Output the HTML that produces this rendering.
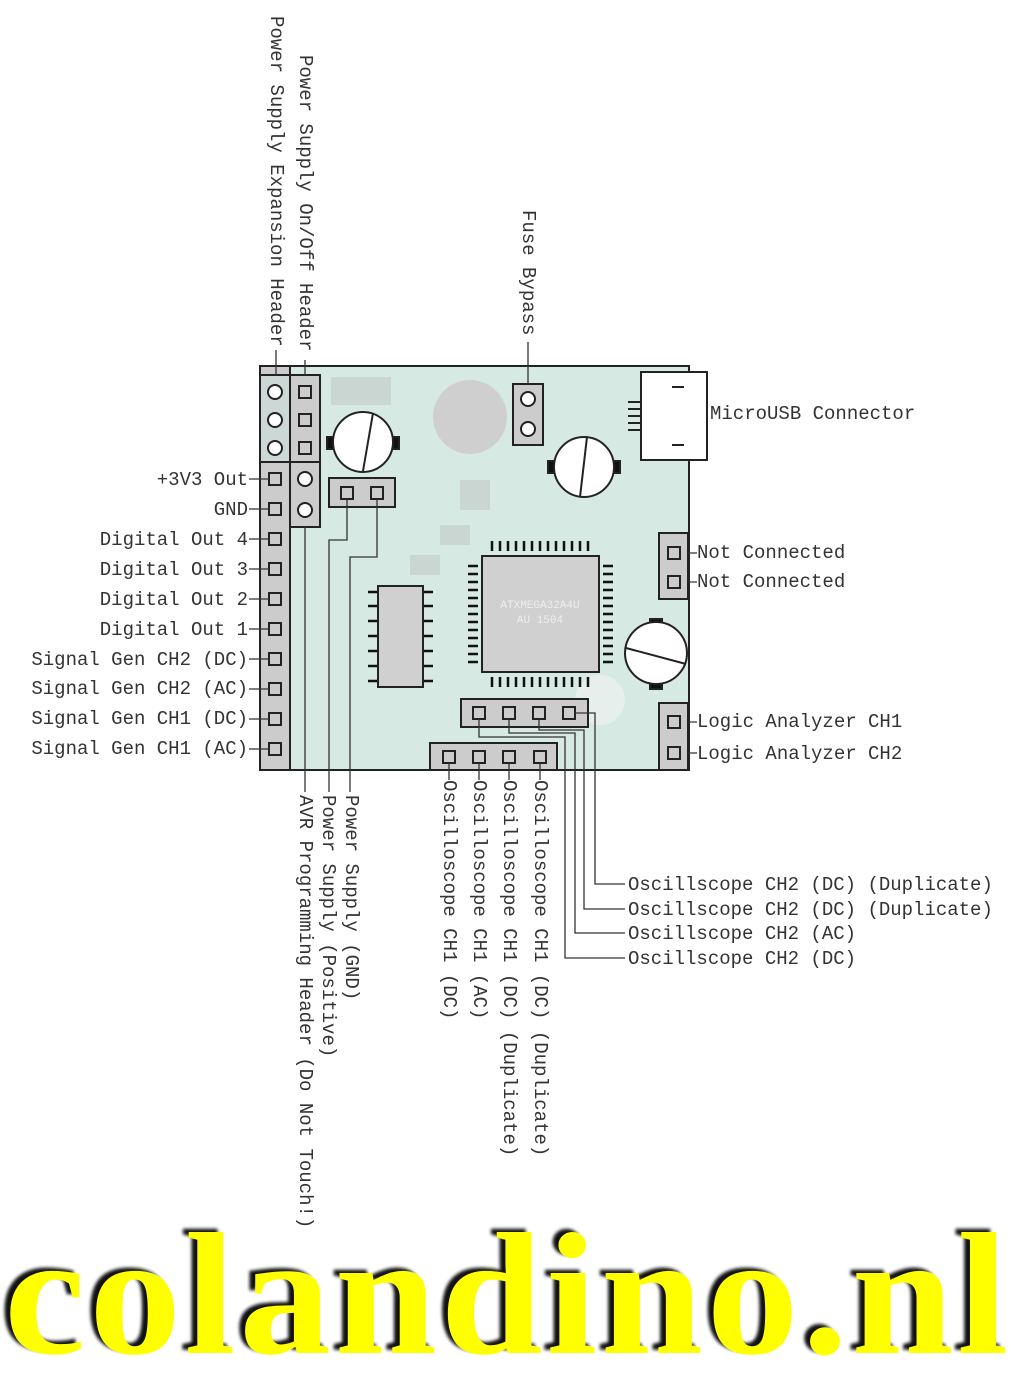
<!DOCTYPE html>
<html><head><meta charset="utf-8"><style>
html,body{margin:0;padding:0;background:#fff;width:1024px;height:1376px;overflow:hidden;position:relative}
svg{position:absolute;left:0;top:0}
.logo{position:absolute;left:4px;top:1207px;font-family:"Liberation Serif",serif;font-weight:bold;font-size:160px;color:#ffff00;letter-spacing:3px;transform-origin:0 0;transform:scaleX(1.15) scaleY(1.09);line-height:1;text-shadow:-5px -3px 3px #111;white-space:nowrap}
</style></head><body>
<svg width="1024" height="1376" viewBox="0 0 1024 1376" font-family="Liberation Mono, monospace" font-size="19" fill="#333">
<rect x="260" y="366" width="429" height="404" fill="#d6e9e2" stroke="#222" stroke-width="2"/>
<g fill="#c9d6d2" stroke="none">
<rect x="331" y="377" width="60" height="28"/>
<circle cx="470" cy="417" r="37" fill="#cfcfcf"/>
<rect x="460" y="480" width="30" height="30"/>
<rect x="440" y="525" width="30" height="20"/>
<rect x="410" y="555" width="30" height="20"/>
<circle cx="600" cy="700" r="25" fill="#e6efec"/>
</g>
<rect x="260" y="366" width="30" height="404" fill="#cccccc" stroke="#222" stroke-width="2"/>
<line x1="260" y1="462" x2="290" y2="462" stroke="#222" stroke-width="2"/>
<rect x="260" y="375" width="30" height="87" fill="#ccd8d5" stroke="#222" stroke-width="2"/>
<rect x="290" y="375" width="30" height="87" fill="#cccccc" stroke="#222" stroke-width="2"/>
<rect x="290" y="462" width="30" height="65" fill="#cccccc" stroke="#222" stroke-width="2"/>
<g fill="#fff" stroke="#222" stroke-width="2">
<circle cx="275" cy="392" r="7"/><circle cx="275" cy="420" r="7"/><circle cx="275" cy="448" r="7"/>
<circle cx="305" cy="479" r="7"/><circle cx="305" cy="510" r="7"/>
</g>
<g fill="none" stroke="#222" stroke-width="2">
<rect x="299" y="386" width="12" height="12"/><rect x="299" y="414" width="12" height="12"/><rect x="299" y="442" width="12" height="12"/>
<rect x="269" y="473" width="12" height="12"/><rect x="269" y="503" width="12" height="12"/><rect x="269" y="533" width="12" height="12"/>
<rect x="269" y="563" width="12" height="12"/><rect x="269" y="593" width="12" height="12"/><rect x="269" y="623" width="12" height="12"/>
<rect x="269" y="653" width="12" height="12"/><rect x="269" y="683" width="12" height="12"/><rect x="269" y="713" width="12" height="12"/>
<rect x="269" y="743" width="12" height="12"/>
</g>
<rect x="329" y="478" width="66" height="29" fill="#cccccc" stroke="#222" stroke-width="2"/>
<rect x="341" y="487" width="12" height="12" fill="none" stroke="#222" stroke-width="2"/>
<rect x="371" y="487" width="12" height="12" fill="none" stroke="#222" stroke-width="2"/>
<rect x="513" y="384" width="30" height="61" fill="#cccccc" stroke="#222" stroke-width="2"/>
<circle cx="528" cy="399" r="7" fill="#fff" stroke="#222" stroke-width="2"/>
<circle cx="528" cy="429" r="7" fill="#fff" stroke="#222" stroke-width="2"/>
<rect x="641" y="372" width="66" height="88" fill="#fff" stroke="#222" stroke-width="2"/>
<g stroke="#222" stroke-width="2"><line x1="672" y1="387" x2="684" y2="387"/><line x1="672" y1="445" x2="684" y2="445"/>
<line x1="628" y1="402" x2="641" y2="402"/><line x1="628" y1="409" x2="641" y2="409"/><line x1="628" y1="416" x2="641" y2="416"/><line x1="628" y1="423" x2="641" y2="423"/><line x1="628" y1="430" x2="641" y2="430"/></g>
<g stroke="#222" stroke-width="2">
<rect x="327" y="437" width="8" height="12" fill="#111"/><rect x="391" y="437" width="8" height="12" fill="#111"/>
<circle cx="363" cy="442" r="30" fill="#fff"/><line x1="373" y1="413" x2="363" y2="471"/>
<rect x="548" y="461" width="8" height="12" fill="#111"/><rect x="612" y="461" width="8" height="12" fill="#111"/>
<circle cx="584" cy="467" r="30" fill="#fff"/><line x1="587" y1="437" x2="580" y2="497"/>
<rect x="650" y="619" width="12" height="8" fill="#111"/><rect x="650" y="681" width="12" height="8" fill="#111"/>
<circle cx="656" cy="653" r="31" fill="#fff"/><line x1="626" y1="648" x2="686" y2="664"/>
</g>
<g stroke="#111" stroke-width="2.5">
<path d="M492 551v-10M500 551v-10M508 551v-10M516 551v-10M524 551v-10M532 551v-10M540 551v-10M548 551v-10M556 551v-10M564 551v-10M572 551v-10M580 551v-10M588 551v-10"/>
<path d="M492 677v10M500 677v10M508 677v10M516 677v10M524 677v10M532 677v10M540 677v10M548 677v10M556 677v10M564 677v10M572 677v10M580 677v10M588 677v10"/>
<path d="M478 566h-10M478 574h-10M478 582h-10M478 590h-10M478 598h-10M478 606h-10M478 614h-10M478 622h-10M478 630h-10M478 638h-10M478 646h-10M478 654h-10M478 662h-10"/>
<path d="M603 566h10M603 574h10M603 582h10M603 590h10M603 598h10M603 606h10M603 614h10M603 622h10M603 630h10M603 638h10M603 646h10M603 654h10M603 662h10"/>
</g>
<rect x="482" y="556" width="117" height="116" fill="#d0d0d0" stroke="#222" stroke-width="2"/>
<text x="540" y="608" font-size="11" fill="#eee" text-anchor="middle">ATXMEGA32A4U</text>
<text x="540" y="623" font-size="11" fill="#eee" text-anchor="middle">AU 1504</text>
<g stroke="#111" stroke-width="2.5">
<path d="M378 592h-10M378 606h-10M378 621h-10M378 636h-10M378 651h-10M378 666h-10M378 681h-10"/>
<path d="M423 592h10M423 606h10M423 621h10M423 636h10M423 651h10M423 666h10M423 681h10"/>
</g>
<rect x="378" y="586" width="45" height="101" fill="#d0d0d0" stroke="#222" stroke-width="2"/>
<rect x="659" y="533" width="29" height="66" fill="#cccccc" stroke="#222" stroke-width="2"/>
<rect x="668" y="547" width="12" height="12" fill="none" stroke="#222" stroke-width="2"/>
<rect x="668" y="576" width="12" height="12" fill="none" stroke="#222" stroke-width="2"/>
<rect x="659" y="703" width="29" height="67" fill="#cccccc" stroke="#222" stroke-width="2"/>
<rect x="668" y="716" width="12" height="12" fill="none" stroke="#222" stroke-width="2"/>
<rect x="668" y="747" width="12" height="12" fill="none" stroke="#222" stroke-width="2"/>
<rect x="461" y="699" width="127" height="28" fill="#cccccc" stroke="#222" stroke-width="2"/>
<g fill="none" stroke="#222" stroke-width="2">
<rect x="473" y="707" width="12" height="12"/><rect x="503" y="707" width="12" height="12"/><rect x="533" y="707" width="12" height="12"/><rect x="563" y="707" width="12" height="12"/>
</g>
<rect x="430" y="743" width="127" height="27" fill="#cccccc" stroke="#222" stroke-width="2"/>
<g fill="none" stroke="#222" stroke-width="2">
<rect x="443" y="751" width="12" height="12"/><rect x="473" y="751" width="12" height="12"/><rect x="503" y="751" width="12" height="12"/><rect x="534" y="751" width="12" height="12"/>
</g>
<g fill="none" stroke="#333" stroke-width="1.3">
<path d="M276 350V375M305 360V375M528 342V384"/>
<path d="M249 479H269M249 509H269M249 539H269M249 569H269M249 599H269M249 629H269M249 659H269M249 689H269M249 719H269M249 749H269"/>
<path d="M688 553H697M688 582H697M688 722H697M688 753H697M707 413H708"/>
<path d="M305 527V792M347 499V540H329V792M377 499V557H350V792"/>
<path d="M449 763V780M479 763V780M509 763V780M540 763V780"/>
<path d="M575 713H595V884H625M539 719V730H584V909H625M509 719V733H575V933H625M479 719V737H565V958H625"/>
</g>
<g text-anchor="end">
<text x="248" y="485">+3V3 Out</text>
<text x="248" y="515">GND</text>
<text x="248" y="545">Digital Out 4</text>
<text x="248" y="575">Digital Out 3</text>
<text x="248" y="605">Digital Out 2</text>
<text x="248" y="635">Digital Out 1</text>
<text x="248" y="665">Signal Gen CH2 (DC)</text>
<text x="248" y="694">Signal Gen CH2 (AC)</text>
<text x="248" y="724">Signal Gen CH1 (DC)</text>
<text x="248" y="754">Signal Gen CH1 (AC)</text>
</g>
<text x="710" y="419">MicroUSB Connector</text>
<text x="697" y="558">Not Connected</text>
<text x="697" y="587">Not Connected</text>
<text x="697" y="727">Logic Analyzer CH1</text>
<text x="697" y="759">Logic Analyzer CH2</text>
<text x="628" y="890">Oscillscope CH2 (DC) (Duplicate)</text>
<text x="628" y="915">Oscillscope CH2 (DC) (Duplicate)</text>
<text x="628" y="939">Oscillscope CH2 (AC)</text>
<text x="628" y="964">Oscillscope CH2 (DC)</text>
<g dominant-baseline="central">
<text transform="translate(276,16) rotate(90)">Power Supply Expansion Header</text>
<text transform="translate(305,55) rotate(90)">Power Supply On/Off Header</text>
<text transform="translate(528,210) rotate(90)">Fuse Bypass</text>
<text transform="translate(305,795) rotate(90)">AVR Programming Header (Do Not Touch!)</text>
<text transform="translate(328,795) rotate(90)">Power Supply (Positive)</text>
<text transform="translate(351,795) rotate(90)">Power Supply (GND)</text>
<text transform="translate(449,780) rotate(90)">Oscilloscope CH1 (DC)</text>
<text transform="translate(479,780) rotate(90)">Oscilloscope CH1 (AC)</text>
<text transform="translate(509,780) rotate(90)">Oscilloscope CH1 (DC) (Duplicate)</text>
<text transform="translate(540,780) rotate(90)">Oscilloscope CH1 (DC) (Duplicate)</text>
</g>
</svg>
<div class="logo">colandino.nl</div>
</body></html>
